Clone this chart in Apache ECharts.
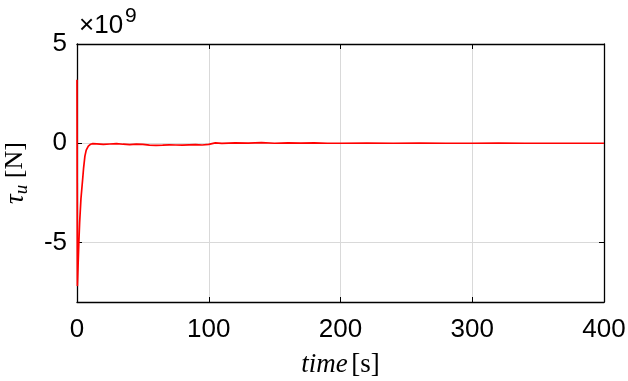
<!DOCTYPE html>
<html>
<head>
<meta charset="utf-8">
<script src="https://cdn.jsdelivr.net/npm/echarts@6/dist/echarts.min.js"></script>
<style>html,body{margin:0;padding:0;background:#fff}#c{width:628px;height:381px}</style>
</head>
<body>
<div id="c"></div>
<script>
// time [s]
const timeS = [0, 0.15, 0.3, 0.8, 1.4, 2, 3, 4.3, 5, 6, 7, 8.6, 10.4, 12, 15, 20, 25, 30, 35, 40, 45, 50, 55, 60, 65, 70, 75, 80, 85, 90, 95, 100, 101, 105, 110, 120, 130, 140, 150, 160, 170, 180, 190, 200, 220, 240, 260, 280, 300, 320, 340, 360, 380, 400];
// tau_u in units of 1e9 N
const tauU = [3.2, -2.0, -7.2, -6.2, -5.0, -4.0, -2.8, -1.8, -1.25, -0.65, -0.35, -0.15, -0.05, -0.02, -0.03, -0.06, -0.04, -0.02, -0.05, -0.07, -0.05, -0.06, -0.1, -0.11, -0.1, -0.08, -0.09, -0.1, -0.08, -0.07, -0.09, -0.06, 0.0, 0.02, -0.01, 0.02, 0.01, 0.03, 0.0, 0.02, 0.01, 0.02, 0.0, 0.0, 0.01, 0.0, 0.01, 0.0, 0.0, 0.01, 0.0, 0.0, 0.0, 0.0];
const xTicks = [0, 100, 200, 300, 400];
const yTicks = [-5, 0, 5];
const yExponent = '9';

const chart = echarts.init(document.getElementById('c'), null, {renderer: 'canvas'});
const data = timeS.map((t, i) => [t, tauU[i]]);
const labelFont = {fontFamily: 'Liberation Sans, Arial', fontSize: 26, color: '#000'};
const tickStyle = {show: true, inside: true, length: 5, lineStyle: {color: '#000', width: 1}};
const frame = {show: true, onZero: false, lineStyle: {color: '#000', width: 1.3}};
chart.setOption({
  animation: false,
  grid: {left: 77, right: 24, top: 44, bottom: 79, containLabel: false, outerBoundsMode: 'none'},
  xAxis: [{
    type: 'value', min: 0, max: 400, interval: 100,
    axisLine: frame,
    axisTick: tickStyle,
    axisLabel: Object.assign({margin: 15}, labelFont),
    splitLine: {show: true, lineStyle: {color: '#d9d9d9', width: 1}},
    name: '{i|time} {n|[s]}', nameLocation: 'middle', nameGap: 49,
    nameTextStyle: {rich: {
      i: {fontFamily: 'Liberation Serif', fontStyle: 'italic', fontSize: 27, color: '#000'},
      n: {fontFamily: 'Liberation Serif', fontSize: 27, color: '#000'}
    }}
  }, {
    type: 'value', min: 0, max: 400, interval: 100, position: 'top',
    axisLine: frame, axisTick: tickStyle, axisLabel: {show: false}, splitLine: {show: false}
  }],
  yAxis: [{
    type: 'value', min: -8, max: 5,
    axisLine: frame,
    axisTick: Object.assign({customValues: yTicks}, tickStyle),
    axisLabel: Object.assign({margin: 10, customValues: yTicks}, labelFont),
    splitLine: {show: true, lineStyle: {color: '#d9d9d9', width: 1}},
    name: '{t|τ}{s|u}  {n|[N]}', nameLocation: 'middle', nameGap: 46, nameRotate: 90,
    nameTextStyle: {rich: {
      t: {fontFamily: 'Liberation Serif', fontStyle: 'italic', fontSize: 27, color: '#000'},
      s: {fontFamily: 'Liberation Serif', fontStyle: 'italic', fontSize: 19, color: '#000', padding: [12, 0, 0, 0]},
      n: {fontFamily: 'Liberation Serif', fontSize: 26, color: '#000'}
    }}
  }, {
    type: 'value', min: -8, max: 5, position: 'right',
    axisLine: frame,
    axisTick: Object.assign({customValues: yTicks}, tickStyle),
    axisLabel: {show: false}, splitLine: {show: false}
  }],
  graphic: [
    {type: 'text', left: 79, top: 13, style: {text: '×10', font: '26px Liberation Sans', fill: '#000'}},
    {type: 'text', left: 125, top: 6, style: {text: yExponent, font: '21px Liberation Sans', fill: '#000'}}
  ],
  series: [{
    type: 'line', data: data, showSymbol: false, smooth: false, z: 3,
    lineStyle: {color: '#ff0000', width: 1.7}
  }]
});
</script>
</body>
</html>
